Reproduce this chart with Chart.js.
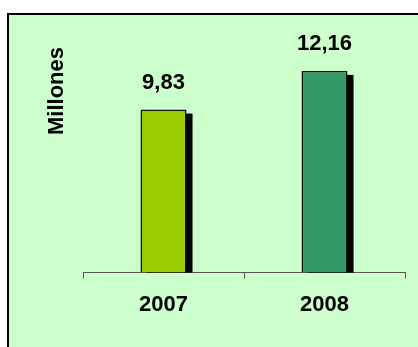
<!DOCTYPE html>
<html>
<head>
<meta charset="utf-8">
<script src="https://cdn.jsdelivr.net/npm/chart.js@4"></script>
<style>
    html, body { margin: 0; padding: 0; background: #fff; }
    #box {
        position: absolute; left: 7px; top: 13px; width: 420px; height: 340px;
        background: #CCFFCC; border-left: 2px solid #000; border-top: 2px solid #000;
    }
    #wrap { position: absolute; left: 0; top: 0; width: 418px; height: 347px; }
</style>
</head>
<body>
<div id="box"></div>
<div id="wrap"><canvas id="chart"></canvas></div>
<script>
const years = ['2007', '2008'];
const values = [9.83, 12.16];
const barColors = ['#99CC00', '#339966'];
const valueLabels = ['9,83', '12,16'];

const font = { family: 'Liberation Sans, Arial, sans-serif', size: 22, weight: 'bold' };

// black drop shadow behind each bar, value labels above them
const barExtras = {
    id: 'barExtras',
    beforeDatasetsDraw(chart) {
        const ctx = chart.ctx;
        ctx.save();
        ctx.fillStyle = '#000';
        chart.getDatasetMeta(0).data.forEach(bar => {
            const left = bar.x - bar.width / 2 + 6;
            ctx.fillRect(left, bar.y + 4, bar.width, bar.base - bar.y - 4);
        });
        ctx.restore();
    },
    afterDatasetsDraw(chart) {
        const ctx = chart.ctx;
        ctx.save();
        ctx.fillStyle = '#000';
        ctx.font = 'bold 22px "Liberation Sans", Arial, sans-serif';
        ctx.textAlign = 'center';
        ctx.textBaseline = 'middle';
        chart.getDatasetMeta(0).data.forEach((bar, i) => {
            ctx.fillText(valueLabels[i], bar.x, bar.y - 27);
        });
        ctx.restore();
    }
};

new Chart(document.getElementById('chart').getContext('2d'), {
    type: 'bar',
    data: {
        labels: years,
        datasets: [{
            data: values,
            backgroundColor: barColors,
            borderColor: '#111',
            borderWidth: 1.5,
            categoryPercentage: 1,
            barPercentage: 0.286
        }]
    },
    options: {
        responsive: true,
        maintainAspectRatio: false,
        animation: false,
        layout: { padding: { left: 40, right: 13, top: 47, bottom: 16 } },
        plugins: { legend: { display: false }, tooltip: { enabled: false } },
        scales: {
            x: {
                grid: { drawOnChartArea: false, drawTicks: true, tickLength: 6, color: '#555' },
                border: { color: '#555', width: 1 },
                ticks: { color: '#000', font: font, padding: 13 }
            },
            y: {
                min: 0,
                max: 13.6,
                grid: { display: false },
                border: { display: false },
                ticks: { display: false },
                title: {
                    display: true, text: 'Millones', align: 'end', color: '#000',
                    font: font, padding: { top: 4, bottom: 4.6 }
                }
            }
        }
    },
    plugins: [barExtras]
});
</script>
</body>
</html>
